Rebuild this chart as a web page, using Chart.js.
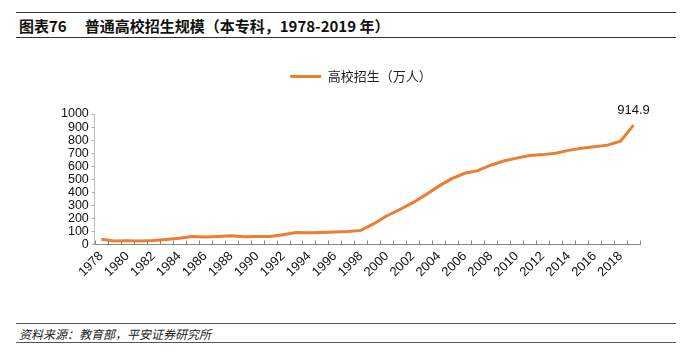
<!DOCTYPE html>
<html>
<head>
<meta charset="utf-8">
<script src="https://cdn.jsdelivr.net/npm/chart.js@4.4.0/dist/chart.umd.min.js"></script>
<style>
  body { margin: 0; background: #fff; width: 692px; height: 363px; position: relative; overflow: hidden; }
  #title { position: absolute; left: 16px; top: 12px; width: 660px; height: 26px; border-top: 1.5px solid #333; border-bottom: 1.5px solid #333;
    font: bold 15px "Noto Sans CJK SC", "Liberation Sans", sans-serif; line-height: 25px; color: #111; padding-left: 3px; box-sizing: border-box; }
  #title span { margin-right: 18px; }
  #wrap { position: absolute; left: 0; top: 50px; width: 692px; height: 234px; }
  #foot { position: absolute; left: 16px; top: 323px; width: 660px; height: 20px; border-top: 1px solid #555; border-bottom: 1px solid #555;
    font: italic 12px "Noto Sans CJK SC", sans-serif; line-height: 19px; color: #222; padding-left: 3px; box-sizing: border-box; }
</style>
</head>
<body>
<div id="title"><span>图表76</span>普通高校招生规模（本专科，1978-2019 年）</div>
<div id="wrap"><canvas id="myChart"></canvas></div>
<div id="foot">资料来源：教育部，平安证券研究所</div>
<script>
var years = [];
for (var y = 1978; y <= 2019; y++) years.push(String(y));

var enroll = [40.2, 27.5, 28.1, 27.9, 31.5, 39.1, 47.5, 61.9, 57.2, 61.7,
              67.0, 59.7, 60.9, 62.0, 75.4, 92.4, 90.0, 92.6, 96.6, 100.0,
              108.4, 159.7, 220.6, 268.3, 320.5, 382.2, 447.3, 504.5, 546.1, 565.9,
              607.7, 639.5, 661.8, 681.5, 688.8, 699.8, 721.4, 737.8, 748.6, 761.5,
              791.0, 914.9];

var yTicks = [0, 100, 200, 300, 400, 500, 600, 700, 800, 900, 1000];

// extra room under the legend, and nudge it right a bit
var legendGap = {
  id: 'legendGap',
  beforeInit: function(chart){
    var fit = chart.legend.fit;
    chart.legend.fit = function(){
      fit.bind(chart.legend)();
      this.height += 21;
    };
  },
  afterLayout: function(chart){
    chart.legend.left += 12;
    chart.legend.right += 12;
  }
};

// label on the last point + small tick marks pointing up from the x axis
var extras = {
  id: 'extras',
  afterDatasetsDraw: function(chart){
    var ctx = chart.ctx;
    var meta = chart.getDatasetMeta(0);
    var last = meta.data[meta.data.length - 1];
    ctx.save();
    ctx.fillStyle = '#111';
    ctx.font = '13px "Liberation Sans", Arial, sans-serif';
    ctx.textAlign = 'center';
    ctx.textBaseline = 'bottom';
    ctx.fillText(enroll[enroll.length - 1].toFixed(1), last.x, last.y - 8);

    var xs = chart.scales.x;
    var n = years.length;
    var step = (xs.right - xs.left) / n;
    ctx.strokeStyle = '#888';
    ctx.lineWidth = 1;
    ctx.beginPath();
    for (var i = 0; i <= n; i++) {
      var px = Math.round(xs.left + i * step) + 0.5;
      ctx.moveTo(px, xs.top);
      ctx.lineTo(px, xs.top - 4);
    }
    ctx.stroke();
    ctx.restore();
  }
};

var ctx = document.getElementById('myChart').getContext('2d');
var myChart = new Chart(ctx, {
  type: 'line',
  data: {
    labels: years,
    datasets: [{
      label: '高校招生（万人）',
      data: enroll,
      borderColor: '#ED7D31',
      backgroundColor: '#ED7D31',
      borderWidth: 3,
      pointRadius: 0,
      tension: 0
    }]
  },
  options: {
    responsive: true,
    maintainAspectRatio: false,
    animation: false,
    layout: { padding: { left: 58, right: 52, top: 0, bottom: 0 } },
    plugins: {
      legend: {
        position: 'top',
        labels: {
          usePointStyle: true,
          pointStyle: 'line',
          pointStyleWidth: 31,
          boxWidth: 31,
          color: '#222',
          font: { size: 13, family: '"Noto Sans CJK SC", sans-serif' },
          padding: 20
        }
      },
      tooltip: { enabled: false }
    },
    scales: {
      x: {
        offset: true,
        grid: { display: false, drawTicks: false },
        border: { color: '#888', width: 1 },
        ticks: {
          autoSkip: false,
          maxRotation: 45,
          minRotation: 45,
          padding: 4,
          color: '#111',
          font: { size: 13, family: '"Liberation Sans", Arial, sans-serif' },
          callback: function(v, i){ return i % 2 === 0 ? years[i] : ''; }
        }
      },
      y: {
        min: 0,
        max: 1000,
        afterBuildTicks: function(scale){ scale.ticks = yTicks.map(function(v){ return { value: v }; }); },
        grid: { drawOnChartArea: false, tickLength: 3, color: '#aaa' },
        border: { color: '#bbb', width: 1 },
        ticks: {
          autoSkip: false,
          padding: 3,
          color: '#111',
          font: { size: 12.5, family: '"Liberation Sans", Arial, sans-serif' },
          callback: function(v){ return String(v); }
        }
      }
    }
  },
  plugins: [legendGap, extras]
});
</script>
</body>
</html>
